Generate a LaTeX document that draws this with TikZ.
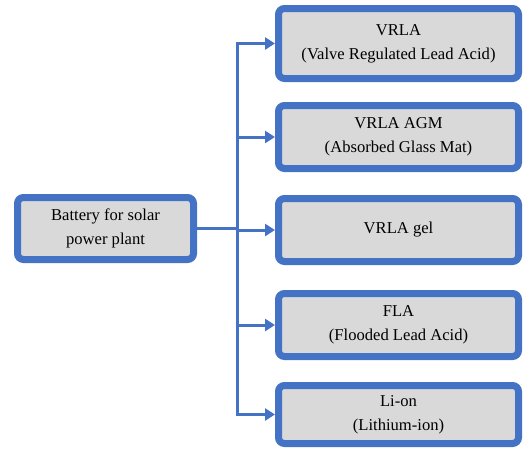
\documentclass[tikz,border=0pt]{standalone}
\usepackage{fontspec}
\setmainfont{Liberation Serif}
\usetikzlibrary{arrows.meta}
\definecolor{boxblue}{HTML}{4472C4}
\definecolor{boxgray}{HTML}{D9D9D9}
\begin{document}
\begin{tikzpicture}[x=1pt,y=-1pt,
    type/.style={draw=boxblue, line width=7pt, fill=boxgray, rounded corners=6pt,
        align=center, font=\fontsize{16.6}{24}\selectfont, inner sep=0pt,
        minimum width=240pt, minimum height=63pt},
    link/.style={draw=boxblue, line width=3pt}]
    \useasboundingbox (0,0) rectangle (524,448);
    \node[type, minimum width=176pt, minimum height=62pt] (battery) at (105.5,228.5) {Battery for solar\\power plant};
    \node[type, minimum height=70pt] (vrla) at (398.5,43.5) {VRLA\\(Valve Regulated Lead Acid)};
    \node[type] (agm) at (398.5,137) {VRLA AGM\\(Absorbed Glass Mat)};
    \node[type] (gel) at (398.5,230) {VRLA gel};
    \node[type] (fla) at (398.5,325) {FLA\\(Flooded Lead Acid)};
    \node[type, minimum height=58pt] (liion) at (398.5,414.5) {Li-on\\(Lithium-ion)};
    \coordinate (bus) at (237,0);
    \draw[link] (battery.east) -- (battery.east -| bus);
    \draw[link, line cap=rect] (bus |- vrla) -- (bus |- liion);
    \foreach \n in {vrla,agm,gel,fla,liion}
        \draw[link, -{Triangle[length=10pt,width=12pt]}] (bus |- \n) -- (\n.west);
\end{tikzpicture}
\end{document}
